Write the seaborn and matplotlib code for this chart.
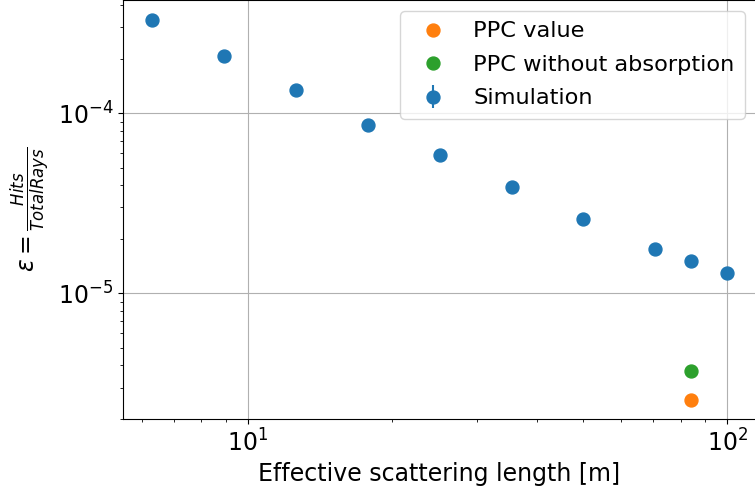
import matplotlib
matplotlib.use("Agg")
import matplotlib.pyplot as plt
import seaborn as sns
import numpy as np
import pandas as pd

# Data
sim_length = [6.3, 8.9, 12.6, 17.8, 25.1, 35.5, 50.1, 70.8, 84.0, 100.0]
sim_eff = [3.32e-4, 2.07e-4, 1.34e-4, 8.65e-5, 5.9e-5, 3.92e-5, 2.6e-5, 1.77e-5, 1.52e-5, 1.30e-5]
sim_err = [2.0e-6, 1.6e-6, 1.3e-6, 1.0e-6, 8.0e-7, 7.0e-7, 5.5e-7, 4.5e-7, 4.2e-7, 3.8e-7]

ppc_length = [84.0]
ppc_eff = [2.55e-6]
ppc_noabs_length = [84.0]
ppc_noabs_eff = [3.69e-6]

C_BLUE, C_ORANGE, C_GREEN = "#1f77b4", "#ff7f0e", "#2ca02c"
FS = 17
LEG_FS = 16.2
MS = 9.3

fig = plt.figure(figsize=(7.55, 4.91), dpi=100)
ax = fig.add_axes([123 / 755, 71.7 / 491, 633 / 755, 419.3 / 491])

sns.lineplot(x=ppc_length, y=ppc_eff, ax=ax, color=C_ORANGE, marker="o",
             linestyle="", markersize=MS, markeredgecolor=C_ORANGE,
             markeredgewidth=1, label="PPC value", legend=False)
sns.lineplot(x=ppc_noabs_length, y=ppc_noabs_eff, ax=ax, color=C_GREEN, marker="o",
             linestyle="", markersize=MS, markeredgecolor=C_GREEN,
             markeredgewidth=1, label="PPC without absorption", legend=False)
ax.errorbar(sim_length, sim_eff, yerr=sim_err, fmt="o", color=C_BLUE,
            markersize=MS, label="Simulation")

ax.set_xscale("log")
ax.set_yscale("log")
ax.grid(True, which="major")
ax.set_axisbelow(True)

ax.set_xlabel("Effective scattering length [m]", fontsize=FS)
ax.set_ylabel(r"$\varepsilon = \frac{Hits}{Total Rays}$", fontsize=FS)
ax.tick_params(axis="both", which="major", labelsize=FS)

ax.legend(fontsize=LEG_FS, loc="upper right", labelspacing=0.6, borderpad=0.45)

fig.savefig("out.png", dpi=100)
